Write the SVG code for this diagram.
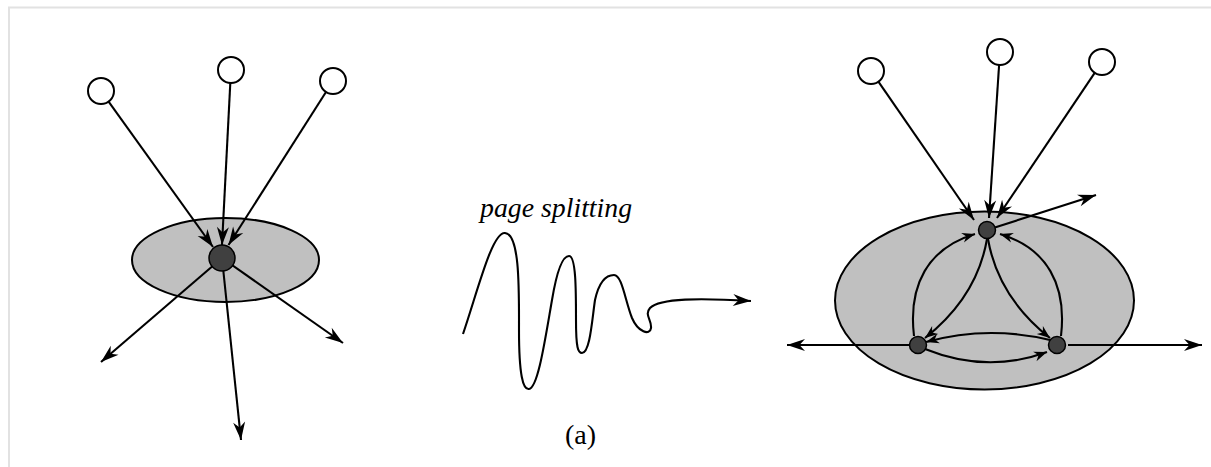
<svg xmlns="http://www.w3.org/2000/svg" width="1211" height="467" viewBox="0 0 1211 467">
<defs>
<style>
.frame{fill:none;stroke:#e2e2e2;stroke-width:2}
.src{fill:#fff;stroke:#000;stroke-width:2}
.region{fill:#c0c0c0;stroke:#000;stroke-width:2}
.node{fill:#404040;stroke:#000;stroke-width:1.5}
.edge{fill:none;stroke:#000;stroke-width:2.1}
.big{marker-end:url(#ah)}
.small{marker-end:url(#as)}
.lbl{font-family:"Liberation Serif","Times New Roman",serif;fill:#000}
</style>
<marker id="ah" viewBox="-19 -7 20 14" refX="0" refY="0" markerWidth="20" markerHeight="14" markerUnits="userSpaceOnUse" orient="auto">
<path d="M0,0 L-18,-6 L-12.5,0 L-18,6 z" fill="#000"/>
</marker>
<marker id="as" viewBox="-14 -6 15 12" refX="0" refY="0" markerWidth="15" markerHeight="12" markerUnits="userSpaceOnUse" orient="auto">
<path d="M0,0 L-13,-5 L-9,0 L-13,5 z" fill="#000"/>
</marker>
</defs>
<rect width="1211" height="467" fill="#fff"/>
<path class="frame" d="M9,467 L9,7.5 L1211,7.5"/>

<g id="left-region"><ellipse class="region" cx="225.5" cy="260" rx="93.5" ry="42"/></g>
<g id="right-region"><ellipse class="region" cx="984.5" cy="300.5" rx="149.5" ry="89"/></g>

<g id="connectors">
<line class="edge big" x1="108.6" y1="101.6" x2="213" y2="247"/>
<line class="edge big" x1="230.3" y1="83" x2="222" y2="245"/>
<line class="edge big" x1="326" y1="92" x2="228.5" y2="245"/>
<line class="edge big" x1="222" y1="258" x2="101" y2="362"/>
<line class="edge big" x1="222" y1="258" x2="241" y2="440"/>
<line class="edge big" x1="222" y1="258" x2="343" y2="343"/>

<path class="edge big" d="M463,334 C478,290 492,232 505,233 C520,234 519,290 519,330 C519,375 523,390 529,389 C538,388 545,340 552,300 C557,270 563,256 569,256 C576,256 576,290 576,320 C576,348 578,353 582,353 C590,353 592,320 595,300 C599,282 606,275 614,275 C622,275 625,300 632,318 C638,332 650,336 651,328 C652,320 644,315 650,308 C660,298 700,298 751,301"/>

<line class="edge big" x1="878.4" y1="81.7" x2="974" y2="220"/>
<line class="edge big" x1="999.1" y1="65" x2="989" y2="218"/>
<line class="edge big" x1="1094.7" y1="72.8" x2="997" y2="218"/>
<line class="edge big" x1="987" y1="230" x2="1096" y2="195"/>
<line class="edge big" x1="918" y1="345" x2="787" y2="345"/>
<line class="edge big" x1="1068" y1="345" x2="1202" y2="345"/>

<path class="edge small" d="M987,239 Q977,297 925,338"/>
<path class="edge small" d="M914,336 C908,285 928,248 975,234"/>
<path class="edge small" d="M988,239 Q998,297 1050,338"/>
<path class="edge small" d="M1061,336 C1067,285 1047,248 1000,234"/>
<path class="edge small" d="M1050,340 Q987,325 926,342"/>
<path class="edge small" d="M925,349 Q987,374 1047,352"/>
</g>

<g id="src-l1"><circle class="src" cx="101" cy="91" r="13"/></g>
<g id="src-l2"><circle class="src" cx="231" cy="70" r="13"/></g>
<g id="src-l3"><circle class="src" cx="333" cy="81" r="13"/></g>
<g id="page-l"><circle class="node" cx="222" cy="258" r="13"/></g>

<g id="src-r1"><circle class="src" cx="871" cy="71" r="13"/></g>
<g id="src-r2"><circle class="src" cx="1000" cy="52" r="13"/></g>
<g id="src-r3"><circle class="src" cx="1102" cy="62" r="13"/></g>
<g id="page-top"><circle class="node" cx="987" cy="230" r="8.5"/></g>
<g id="page-bl"><circle class="node" cx="918" cy="345" r="8.5"/></g>
<g id="page-br"><circle class="node" cx="1057" cy="345" r="8.5"/></g>

<g id="label-split"><text class="lbl" x="480" y="217" font-size="27.8" font-style="italic">page splitting</text></g>
<g id="label-a"><text class="lbl" x="565" y="444" font-size="28">(a)</text></g>
</svg>
